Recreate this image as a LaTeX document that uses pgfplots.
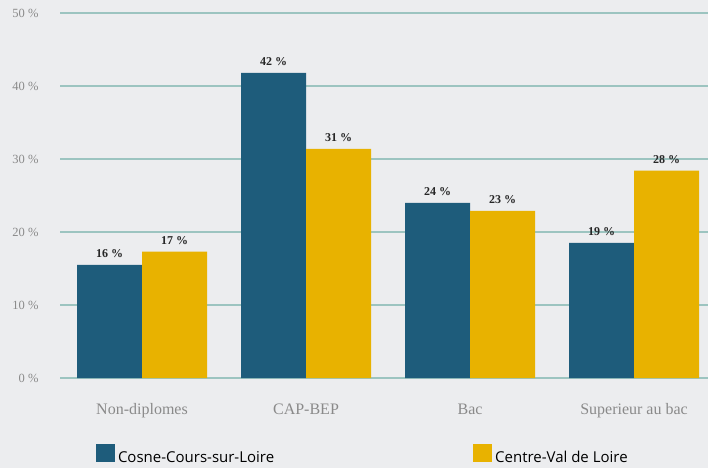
\documentclass[border=0pt]{standalone}
\usepackage{pgfplots}
\pgfplotsset{compat=1.18}
\usepackage{fontspec}
\setmainfont{Liberation Serif}
\newfontfamily\legfont{Open Sans}
\definecolor{bg}{HTML}{ECEDEF}
\definecolor{gridc}{HTML}{9CC4C0}
\definecolor{cblue}{HTML}{1E5C7B}
\definecolor{cgold}{HTML}{E8B200}
\definecolor{lab}{HTML}{8A8A8A}
\begin{document}
\begin{tikzpicture}
\fill[bg] (0,0) rectangle (708pt,468pt);
\useasboundingbox (0,0) rectangle (708pt,468pt);
\begin{axis}[
  at={(60pt,90pt)}, anchor=south west,
  scale only axis, width=648pt, height=365pt,
  ybar=0pt, bar width=65pt,
  xmin=-0.5, xmax=3.451, ymin=0, ymax=50,
  xtick={0,1,2,3},
  xticklabels={Non-diplomes,CAP-BEP,Bac,Superieur au bac},
  ytick={0,10,20,30,40,50},
  yticklabels={0 \%,10 \%,20 \%,30 \%,40 \%,50 \%},
  ymajorgrids, grid style={gridc, line width=1.6pt},
  axis line style={draw=none},
  major tick style={draw=none},
  yticklabel style={font=\fontsize{12.5}{14}\selectfont, text=lab, anchor=east, xshift=-18pt},
  xticklabel style={font=\fontsize{16}{18}\selectfont, text=lab, anchor=base, yshift=-32pt},
  point meta=explicit symbolic,
  nodes near coords,
  every node near coord/.append style={font=\bfseries\fontsize{12}{14}\selectfont, text=black!85, inner sep=0pt, anchor=base, yshift=7.5pt},
  legend columns=2,
  legend style={at={(0.0556,-0.236)}, anchor=south west, draw=none, fill=none, inner sep=0pt, outer sep=0pt,
    font=\legfont\fontsize{15}{17}\selectfont,
    nodes={inner sep=0pt},
    /tikz/every odd column/.append style={column sep=3pt},
    /tikz/every even column/.append style={column sep=199pt}},
  legend image code/.code={\fill[#1] (0pt,-4pt) rectangle (19pt,14pt);},
]
\addplot[fill=cblue, draw=none] coordinates {(0,15.5)[16 \%] (1,41.8)[42 \%] (2,24.0)[24 \%] (3,18.5)[19 \%]};
\addplot[fill=cgold, draw=none] coordinates {(0,17.3)[17 \%] (1,31.4)[31 \%] (2,22.9)[23 \%] (3,28.4)[28 \%]};
\legend{Cosne-Cours-sur-Loire, Centre-Val de Loire}
\end{axis}
\end{tikzpicture}
\end{document}
